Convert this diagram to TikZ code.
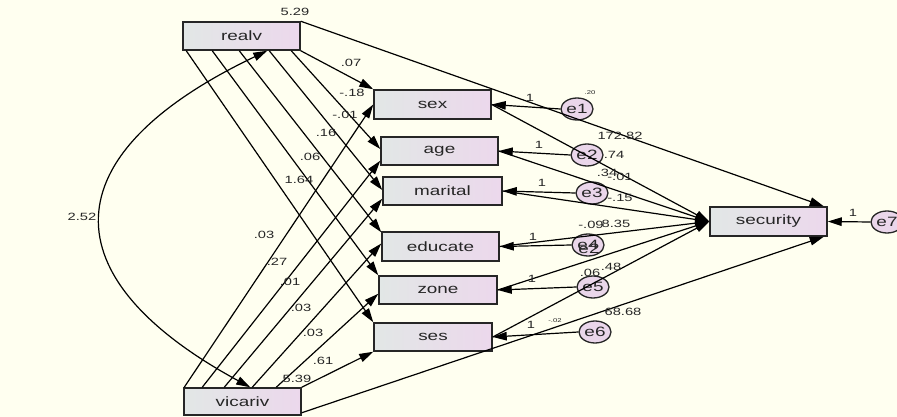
\documentclass[tikz,border=0pt]{standalone}
\usepackage{fontspec}
\setmainfont{Liberation Sans}
\newfontfamily\amosfont[FakeStretch=1.4]{Liberation Sans}
\usetikzlibrary{arrows.meta,shapes.geometric,calc}
\definecolor{bg}{HTML}{FFFFF0}
\definecolor{boxl}{HTML}{E2E7E6}
\definecolor{boxr}{HTML}{ECD8EC}
\definecolor{ecol}{HTML}{EAD6EA}
\definecolor{txt}{HTML}{262626}
\begin{document}
\begin{tikzpicture}[x=1pt,y=-1pt,
  varbox/.style={draw=black!85,line width=1.5pt,left color=boxl,right color=boxr,
    minimum width=117pt,minimum height=28pt,inner sep=0pt,
    font=\amosfont\fontsize{13.5}{13.5}\selectfont,text=txt},
  errnode/.style={ellipse,draw=black!85,line width=1.3pt,fill=ecol,
    minimum width=32pt,minimum height=22pt,inner sep=0pt,
    font=\amosfont\fontsize{13.5}{13.5}\selectfont,text=txt},
  conn/.style={draw=black,line width=1.2pt,-{Triangle[length=14pt,width=8.5pt]}},
  cov/.style={draw=black,line width=1.2pt,{Triangle[length=14pt,width=8.5pt]}-{Triangle[length=14pt,width=8.5pt]}},
  lbl/.style={font=\amosfont\fontsize{10.5}{10.5}\selectfont,text=txt,inner sep=0pt},
  tinylbl/.style={font=\amosfont\fontsize{5.5}{5.5}\selectfont,text=txt,inner sep=0pt}]
\fill[bg] (0,0) rectangle (897,417);
\useasboundingbox (0,0) rectangle (897,417);

% variables
\node[varbox] (realv) at (241.5,36) {realv};
\node[varbox,minimum height=29pt] (sex) at (432.5,104.5) {sex};
\node[varbox] (age) at (439.5,151) {age};
\node[varbox,minimum width=119pt] (marital) at (442.5,191) {marital};
\node[varbox,minimum height=29pt] (educate) at (440.5,246.5) {educate};
\node[varbox,minimum width=118pt] (zone) at (438,290) {zone};
\node[varbox,minimum width=118pt] (ses) at (433,337) {ses};
\node[varbox,minimum height=27pt] (vicariv) at (242.5,401.5) {vicariv};
\node[varbox,minimum height=29pt] (security) at (768.5,221.5) {security};

% errors
\node[errnode] (e1) at (577,109) {e1};
\node[errnode] (e2) at (587,155) {e2};
\node[errnode] (e3) at (592,193) {e3};
\node[errnode] (e4) at (588,245) {e4};
\node[errnode] (e5) at (593,287) {e5};
\node[errnode] (e6) at (595,332) {e6};
\node[errnode] (e7) at (887,222) {e7};

% start points on realv and vicariv
\coordinate (r1) at ($(realv.south west)+(4,0)$);
\coordinate (r2) at ($(realv.south west)+(30,0)$);
\coordinate (r3) at ($(realv.south west)+(57,0)$);
\coordinate (r4) at ($(realv.south west)+(87,0)$);
\coordinate (r5) at ($(realv.south west)+(109,0)$);
\coordinate (rc) at ($(realv.south west)+(85,0)$);
\coordinate (v1) at ($(vicariv.north west)+(1,0)$);
\coordinate (v2) at ($(vicariv.north west)+(19,0)$);
\coordinate (v3) at ($(vicariv.north west)+(41,0)$);
\coordinate (v4) at ($(vicariv.north west)+(69,0)$);
\coordinate (v5) at ($(vicariv.north west)+(93,0)$);
\coordinate (vc) at ($(vicariv.north west)+(67,0)$);

% realv paths
\draw[conn] (realv.south east) -- (sex.north west);
\draw[conn] (r5) -- ($(age.west)+(0,-2)$);
\draw[conn] (r4) -- ($(marital.west)+(0,-1)$);
\draw[conn] (r3) -- ($(educate.north west)+(0,1)$);
\draw[conn] (r2) -- (zone.north west);
\draw[conn] (r1) -- (ses.north west);

% vicariv paths
\draw[conn] (v1) -- (sex.west);
\draw[conn] (v2) -- ($(age.south west)+(0,-5)$);
\draw[conn] (v3) -- ($(marital.south west)+(0,-7)$);
\draw[conn] (v4) -- ($(educate.west)+(0,-3)$);
\draw[conn] (v5) -- ($(zone.south west)+(0,-11)$);
\draw[conn] (vicariv.north east) -- (ses.south west);

% covariance
\draw[cov] (rc) .. controls (49,155) and (49,278) .. (vc);

% paths to security
\draw[conn] (realv.north east) -- ($(security.north east)+(-4,0)$);
\draw[conn] ($(vicariv.south east)+(0,-3)$) -- ($(security.south east)+(-4,0)$);
\draw[conn] (sex.east) -- (security.west);
\draw[conn] (age.east) -- (security.west);
\draw[conn] (marital.east) -- (security.west);
\draw[conn] (educate.east) -- (security.west);
\draw[conn] (zone.east) -- (security.west);
\draw[conn] (ses.east) -- (security.west);

% error arrows
\draw[conn] (e1.west) -- (sex.east);
\draw[conn] (e2.west) -- (age.east);
\draw[conn] (e3.west) -- (marital.east);
\draw[conn] (e4.west) -- (educate.east);
\draw[conn] (e5.west) -- (zone.east);
\draw[conn] (e6.west) -- (ses.east);
\draw[conn] (e7.west) -- (security.east);

% labels: variances / covariance
\node[lbl] (l529) at (295,12) {5.29};
\node[lbl] (l539) at (297,379) {5.39};
\node[lbl] (l252) at (82,217) {2.52};
% realv coefficients
\node[lbl] (la1) at (351,63) {.07};
\node[lbl] (la2) at (352,93) {-.18};
\node[lbl] (la3) at (345,115) {-.01};
\node[lbl] (la4) at (326,133) {.16};
\node[lbl] (la5) at (310,157) {.06};
\node[lbl] (la6) at (299,180) {1.64};
% vicariv coefficients
\node[lbl] (lb1) at (264,235) {.03};
\node[lbl] (lb2) at (277,262) {.27};
\node[lbl] (lb3) at (290,282) {.01};
\node[lbl] (lb4) at (301,308) {.03};
\node[lbl] (lb5) at (313,333) {.03};
\node[lbl] (lb6) at (323,361) {.61};
% right side
\node[lbl] (lc1) at (620,136) {172.82};
\node[lbl] (lc2) at (614,155) {.74};
\node[lbl] (lc3) at (607,173) {.34};
\node[lbl] (lc4) at (620,177) {-.01};
\node[lbl] (lc5) at (620,198) {-.15};
\node[lbl] (lc6) at (591,225) {-.09};
\node[lbl] (lc7) at (616,224) {8.35};
\node[lbl] (lc8) at (590,273) {.06};
\node[lbl] (lc9) at (611,267) {.48};
\node[lbl] (lc10) at (623,312) {68.68};
\node[font=\amosfont\fontsize{13.5}{13.5}\selectfont,text=txt,inner sep=0pt] (le2b) at (589,249) {e2};
\node[tinylbl] (lt1) at (590,93) {.20};
\node[tinylbl] (lt2) at (555,321) {-.02};
% ones
\node[lbl] (o1) at (530,98) {1};
\node[lbl] (o2) at (539,145) {1};
\node[lbl] (o3) at (542,183) {1};
\node[lbl] (o4) at (533,237) {1};
\node[lbl] (o5) at (532,279) {1};
\node[lbl] (o6) at (531,325) {1};
\node[lbl] (o7) at (853,213) {1};
\end{tikzpicture}
\end{document}
